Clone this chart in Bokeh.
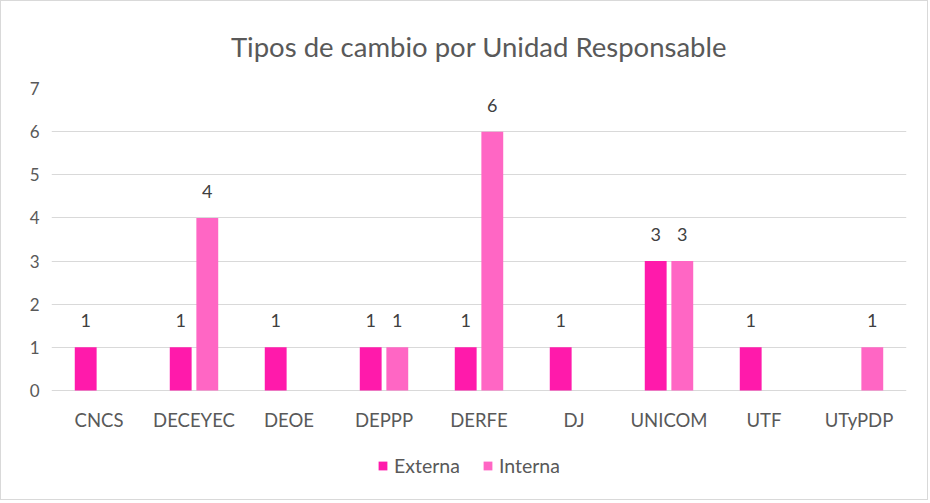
from bokeh.plotting import figure
from bokeh.models import ColumnDataSource, FactorRange, Range1d, Legend, LegendItem
from bokeh.transform import dodge
from bokeh.core.properties import value
from bokeh.embed import file_html
from bokeh.resources import INLINE

categories = ["CNCS", "DECEYEC", "DEOE", "DEPPP", "DERFE", "DJ", "UNICOM", "UTF", "UTyPDP"]
externa = [1, 1, 1, 1, 1, 1, 3, 1, 0]
interna = [0, 4, 0, 1, 6, 0, 3, 0, 1]
y_ticks = [0, 1, 2, 3, 4, 5, 6, 7]

FONT = "Lato"
C_EXT = "#FF1AAB"
C_INT = "#FF66C4"
TXT = "#595959"

# layout (pixels): frame top at 87, zero line 302px below, 111px of space under it
FRAME_TOP, PLOT_H, BELOW = 87, 302, 111
Y_MAX = 7
y_min = -BELOW * Y_MAX / PLOT_H

def src(vals):
    c = [k for k, v in zip(categories, vals) if v > 0]
    v = [v for v in vals if v > 0]
    return ColumnDataSource(dict(cat=c, val=v, lab=[str(x) for x in v]))

s_ext = src(externa)
s_int = src(interna)
s_cat = ColumnDataSource(dict(cat=categories, y=[0] * len(categories)))

p = figure(x_range=FactorRange(*categories), y_range=Range1d(y_min, Y_MAX),
           width=928, height=FRAME_TOP + PLOT_H + BELOW,
           min_border_left=50, min_border_right=23, min_border_top=FRAME_TOP, min_border_bottom=0,
           output_backend="svg", toolbar_location=None,
           title="Tipos de cambio por Unidad Responsable")
p.styles = {"border": "1px solid #d9d9d9"}

p.title.align = "center"
p.title.text_font = FONT
p.title.text_font_size = "27.5px"
p.title.text_font_style = "normal"
p.title.text_color = TXT
p.title.standoff = 52

p.outline_line_color = None
p.xgrid.grid_line_color = None
p.ygrid.grid_line_color = "#d9d9d9"
p.ygrid.grid_line_width = 1
p.xaxis.visible = False

p.yaxis.ticker = y_ticks
p.yaxis.axis_line_color = None
p.yaxis.major_tick_line_color = None
p.yaxis.minor_tick_line_color = None
p.yaxis.major_tick_out = 0
p.yaxis.major_label_text_font = FONT
p.yaxis.major_label_text_font_size = "17px"
p.yaxis.major_label_text_color = TXT
p.yaxis.major_label_standoff = 12

# category labels under the zero line
p.text(x="cat", y="y", text="cat", source=s_cat, text_align="center", text_baseline="middle",
       y_offset=29, text_font=value(FONT), text_font_size="18.5px", text_color=TXT)

r1 = p.vbar(x=dodge("cat", -0.14, range=p.x_range), top="val", width=0.23,
            source=s_ext, fill_color=C_EXT, line_color=None)
r2 = p.vbar(x=dodge("cat", 0.14, range=p.x_range), top="val", width=0.23,
            source=s_int, fill_color=C_INT, line_color=None)

for s, off in ((s_ext, -0.14), (s_int, 0.14)):
    p.text(x=dodge("cat", off, range=p.x_range), y="val", text="lab", source=s,
           text_align="center", text_baseline="bottom", y_offset=-20,
           text_font=value(FONT), text_font_size="18px", text_color="#404040")

legend = Legend(items=[LegendItem(label="Externa", renderers=[r1]),
                       LegendItem(label="Interna", renderers=[r2])],
                orientation="horizontal", location=(326, 24),
                label_text_font=FONT, label_text_font_size="19.5px", label_text_color=TXT,
                glyph_width=11, glyph_height=11, spacing=22, border_line_color=None,
                background_fill_alpha=0, padding=0, margin=0, label_standoff=6)
p.add_layout(legend, "center")

open("out.html", "w").write(file_html(p, INLINE))
